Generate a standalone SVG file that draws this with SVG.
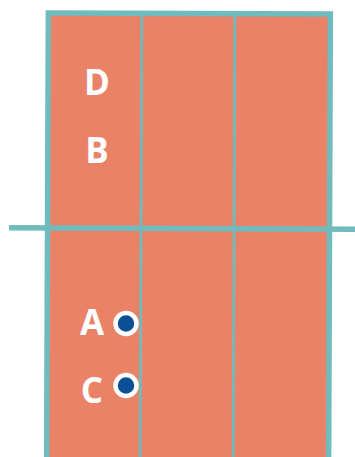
<svg xmlns="http://www.w3.org/2000/svg" width="355" height="457" viewBox="0 0 355 457">
<style>
.lbl{font-family:"Open Sans","Liberation Sans",sans-serif;font-weight:700;font-size:35px;fill:#fff;text-anchor:middle}
.ln{stroke:#6FBBBD;fill:none}
.box{stroke:#6FBBBD;fill:#E98267}
.dot{fill:#0B5096;stroke:#fff;stroke-width:4.5}
</style>
<rect width="355" height="457" fill="#fff"/>
<g id="field" transform="rotate(0.22 188 234)">
<rect class="box" x="47.5" y="13.5" width="282" height="460" stroke-width="5.5"/>
</g>
<g id="connectors" transform="rotate(0.22 188 234)">
<line class="ln" x1="141" y1="14" x2="141" y2="470" stroke-width="2.8"/>
<line class="ln" x1="234" y1="14" x2="234" y2="470" stroke-width="2.8"/>
<line class="ln" x1="9" y1="228.5" x2="360" y2="228.5" stroke-width="5.5"/>
</g>
<g id="D"><text class="lbl" x="97" y="95">D</text></g>
<g id="B"><text class="lbl" x="97" y="163">B</text></g>
<g id="A"><text class="lbl" x="92" y="335">A</text><circle class="dot" cx="126" cy="323.5" r="10.5"/></g>
<g id="C"><text class="lbl" x="92" y="403">C</text><circle class="dot" cx="126" cy="385.5" r="10.5"/></g>
</svg>
